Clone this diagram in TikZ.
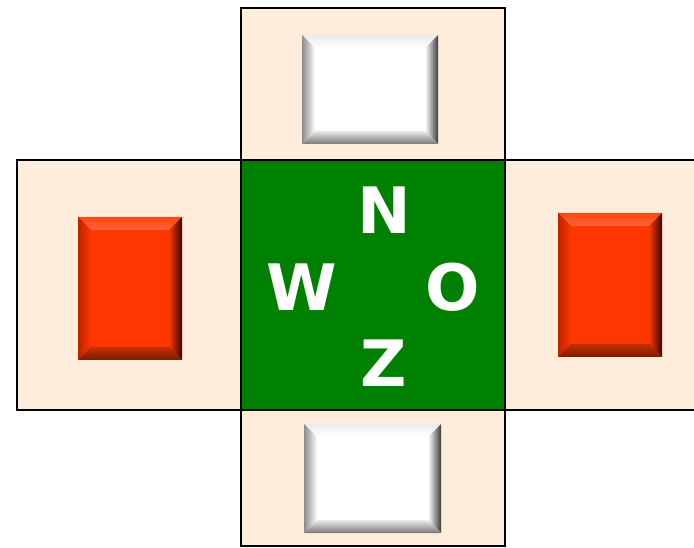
\documentclass[tikz,border=0pt]{standalone}
\usepackage{fontspec}
\setmainfont{DejaVu Sans}
\definecolor{beige}{RGB}{253,237,218}
\definecolor{grn}{RGB}{0,128,0}
% white button colours
\definecolor{w-base}{RGB}{255,255,255}
\definecolor{w-topout}{RGB}{235,235,235}
\definecolor{w-topin}{RGB}{255,255,255}
\definecolor{w-leftout}{RGB}{140,140,140}
\definecolor{w-leftin}{RGB}{255,255,255}
\definecolor{w-rightout}{RGB}{60,60,60}
\definecolor{w-rightin}{RGB}{255,255,255}
\definecolor{w-botout}{RGB}{120,120,120}
\definecolor{w-botin}{RGB}{235,235,235}
% red button colours
\definecolor{r-base}{RGB}{255,54,0}
\definecolor{r-topout}{RGB}{255,70,20}
\definecolor{r-topin}{RGB}{255,100,55}
\definecolor{r-leftout}{RGB}{190,35,0}
\definecolor{r-leftin}{RGB}{255,54,0}
\definecolor{r-rightout}{RGB}{50,8,0}
\definecolor{r-rightin}{RGB}{255,54,0}
\definecolor{r-botout}{RGB}{120,30,0}
\definecolor{r-botin}{RGB}{200,45,0}
\newcommand{\bvbtn}[5]{%
  \fill[#5-base] (#1,#2) rectangle (#3,#4);
  \shade[top color=#5-topout, bottom color=#5-topin]
    (#1,#4) -- (#3,#4) -- ({#3-13},{#4-13}) -- ({#1+13},{#4-13}) -- cycle;
  \shade[left color=#5-leftout, right color=#5-leftin]
    (#1,#4) -- ({#1+13},{#4-13}) -- ({#1+13},{#2+13}) -- (#1,#2) -- cycle;
  \shade[left color=#5-rightin, right color=#5-rightout]
    (#3,#4) -- ({#3-13},{#4-13}) -- ({#3-13},{#2+13}) -- (#3,#2) -- cycle;
  \shade[top color=#5-botin, bottom color=#5-botout]
    (#1,#2) -- ({#1+13},{#2+13}) -- ({#3-13},{#2+13}) -- (#3,#2) -- cycle;
}
\begin{document}
\begin{tikzpicture}[x=1pt,y=1pt,
  panel/.style={draw=black, line width=2pt, fill=beige, inner sep=0pt, outer sep=0pt, anchor=south west},
  letter/.style={text=white, font=\bfseries\fontsize{64}{64}\selectfont, inner sep=0pt}]
\useasboundingbox (0,0) rectangle (694,547);
\node[panel, minimum width=264pt, minimum height=152pt] (top) at (241,387) {};
\node[panel, minimum width=224pt, minimum height=250pt] (left) at (17,137) {};
\node[panel, minimum width=200pt, minimum height=250pt] (right) at (505,137) {};
\node[panel, minimum width=264pt, minimum height=136pt] (bottom) at (241,1) {};
\node[panel, fill=grn, minimum width=264pt, minimum height=250pt] (center) at (241,137) {};
\bvbtn{302}{403}{438}{512}{w}
\bvbtn{304}{14}{441}{123}{w}
\bvbtn{78}{187}{182}{330}{r}
\bvbtn{558}{190}{662}{334}{r}
\node[letter] (n) at (384,337) {N};
\node[letter] (w) at (302,260) {W};
\node[letter] (o) at (453,260) {O};
\node[letter] (z) at (384,184) {Z};
\end{tikzpicture}
\end{document}
